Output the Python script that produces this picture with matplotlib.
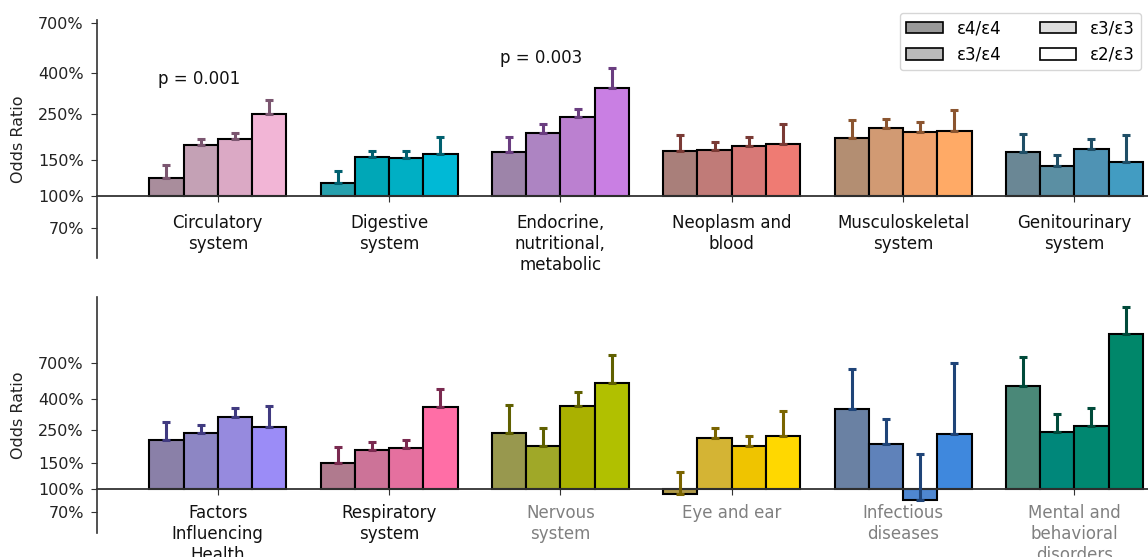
import matplotlib
matplotlib.use("Agg")
import matplotlib.pyplot as plt
import matplotlib.patches as mpatches
from matplotlib.ticker import FixedLocator, FixedFormatter, NullLocator
import numpy as np

genotypes = ["ε4/ε4", "ε3/ε4", "ε3/ε3", "ε2/ε3"]

top_categories = ["Circulatory\nsystem", "Digestive\nsystem", "Endocrine,\nnutritional,\nmetabolic",
                  "Neoplasm and\nblood", "Musculoskeletal\nsystem", "Genitourinary\nsystem"]
top_values = [
    [1.23, 1.78, 1.91, 2.51],
    [1.156, 1.56, 1.54, 1.60],
    [1.64, 2.04, 2.44, 3.37],
    [1.66, 1.68, 1.76, 1.80],
    [1.93, 2.15, 2.06, 2.07],
    [1.64, 1.41, 1.69, 1.47],
]
top_upper = [
    [1.42, 1.89, 2.04, 2.94],
    [1.325, 1.67, 1.67, 1.95],
    [1.95, 2.25, 2.67, 4.19],
    [1.98, 1.84, 1.95, 2.26],
    [2.36, 2.39, 2.30, 2.63],
    [2.02, 1.59, 1.90, 1.98],
]
top_colors = [
    ["#a98d9c", "#c4a1b5", "#dba9c5", "#f2b5d6"],
    ["#27a0ad", "#00a7b7", "#00afc4", "#00b9d6"],
    ["#9d84a9", "#ad84c2", "#bb80d0", "#c97fe3"],
    ["#a97f7a", "#c07b78", "#d87977", "#ef7b73"],
    ["#b38e72", "#d19a73", "#f1a36d", "#ffaa66"],
    ["#6a8795", "#5b8fa3", "#4f93b4", "#429cc2"],
]
top_err_colors = ["#7b5670", "#00606f", "#6a3d80", "#7a3a35", "#8b5530", "#1f4e66"]
top_label_colors = ["#111111"] * 6
top_pvalues = ["p = 0.001", None, "p = 0.003", None, None, None]
top_p_y = [3.72, None, 4.69, None, None, None]

bot_categories = ["Factors\nInfluencing\nHealth", "Respiratory\nsystem", "Nervous\nsystem",
                  "Eye and ear", "Infectious\ndiseases", "Mental and\nbehavioral\ndisorders"]
bot_values = [
    [2.13, 2.39, 3.05, 2.59],
    [1.49, 1.83, 1.87, 3.55],
    [2.39, 1.94, 3.62, 5.09],
    [0.93, 2.21, 1.93, 2.26],
    [3.42, 2.01, 0.84, 2.34],
    [4.88, 2.42, 2.63, 10.9],
]
bot_upper = [
    [2.80, 2.70, 3.48, 3.59],
    [1.92, 2.07, 2.14, 4.69],
    [3.64, 2.55, 4.49, 7.92],
    [1.31, 2.55, 2.28, 3.32],
    [6.41, 2.96, 1.71, 6.93],
    [7.60, 3.20, 3.51, 16.6],
]
bot_colors = [
    ["#8a80a8", "#8d86c4", "#968ade", "#9b8cf7"],
    ["#b07a8e", "#cc7398", "#e5709f", "#ff6ea6"],
    ["#98984e", "#a0a828", "#aab100", "#b1c000"],
    ["#b09a4a", "#d4b434", "#efc400", "#ffd800"],
    ["#6a81a3", "#5f82ba", "#4f87d0", "#3f88dd"],
    ["#4a8878", "#00877a", "#008770", "#00876a"],
]
bot_err_colors = ["#403a80", "#7a2a50", "#606000", "#7a6400", "#1f4478", "#004a3a"]
bot_label_colors = ["#111111", "#111111", "#808080", "#808080", "#808080", "#808080"]

legend_colors = ["#999999", "#bbbbbb", "#dddddd", "#ffffff"]

yticks = [0.7, 1.0, 1.5, 2.5, 4.0, 7.0]
ytick_labels = ["70%", "100%", "150%", "250%", "400%", "700%"]

fig = plt.figure(figsize=(11.48, 5.57), dpi=100)
ax_top = fig.add_axes([0.0845, 0.5363, 1.0 - 0.0845, 0.9641 - 0.5363])
ax_bot = fig.add_axes([0.0845, 0.0425, 1.0 - 0.0845, 0.4673 - 0.0425])

width = 0.2
offsets = np.array([-1.5, -0.5, 0.5, 1.5]) * width


def draw(ax, cats, vals, ups, cols, ecols, ylim, xpad):
    ax.set_yscale("log")
    for i, cat in enumerate(cats):
        for j in range(4):
            v = vals[i][j]
            x = i + offsets[j]
            ax.bar(x, v - 1.0, bottom=1.0, width=width, color=cols[i][j],
                   edgecolor="black", linewidth=1.5, zorder=2)
            ax.errorbar(x, v, yerr=[[0], [ups[i][j] - v]], fmt="none",
                        ecolor=ecols[i], elinewidth=2.2, capsize=3.2, capthick=2.2, zorder=3)
    ax.set_xlim(-0.705, 5.43)
    ax.set_ylim(*ylim)
    ax.yaxis.set_major_locator(FixedLocator(yticks))
    ax.yaxis.set_major_formatter(FixedFormatter(ytick_labels))
    ax.yaxis.set_minor_locator(NullLocator())
    ax.tick_params(axis="y", labelsize=11.5, color="#333333", labelcolor="#222222",
                   length=4.5, pad=5)
    ax.set_xticks(range(len(cats)))
    ax.tick_params(axis="x", length=4, pad=xpad, color="#333333", labelsize=12)
    ax.set_xticklabels(cats, fontsize=12, linespacing=1.1)
    ax.spines["top"].set_visible(False)
    ax.spines["right"].set_visible(False)
    ax.spines["bottom"].set_position(("data", 1.0))
    ax.spines["bottom"].set_color("#333333")
    ax.spines["left"].set_color("#333333")
    ax.spines["bottom"].set_linewidth(1.3)
    ax.spines["left"].set_linewidth(1.2)
    ax.set_ylabel("Odds Ratio", fontsize=11.5, labelpad=9, color="#222222")


draw(ax_top, top_categories, top_values, top_upper, top_colors, top_err_colors, (0.5, 7.2), 9)
draw(ax_bot, bot_categories, bot_values, bot_upper, bot_colors, bot_err_colors, (0.505, 19.4), 7)

for i, (p, py) in enumerate(zip(top_pvalues, top_p_y)):
    if p:
        ax_top.text(i - 0.11, py, p, ha="center", va="center", fontsize=12, color="#111111")

handles = [mpatches.Patch(facecolor=c, edgecolor="black", linewidth=1.2, label=g)
           for g, c in zip(genotypes, legend_colors)]
fig.legend(handles=handles, loc="upper right", bbox_to_anchor=(0.994, 0.977), ncol=2,
           fontsize=12, frameon=True, handlelength=2.2, columnspacing=2.3,
           borderaxespad=0)

fig.canvas.draw()
for ax, lcols in ((ax_top, top_label_colors), (ax_bot, bot_label_colors)):
    for lab, c in zip(ax.get_xticklabels(), lcols):
        lab.set_color(c)

fig.savefig("out.png", dpi=100)
